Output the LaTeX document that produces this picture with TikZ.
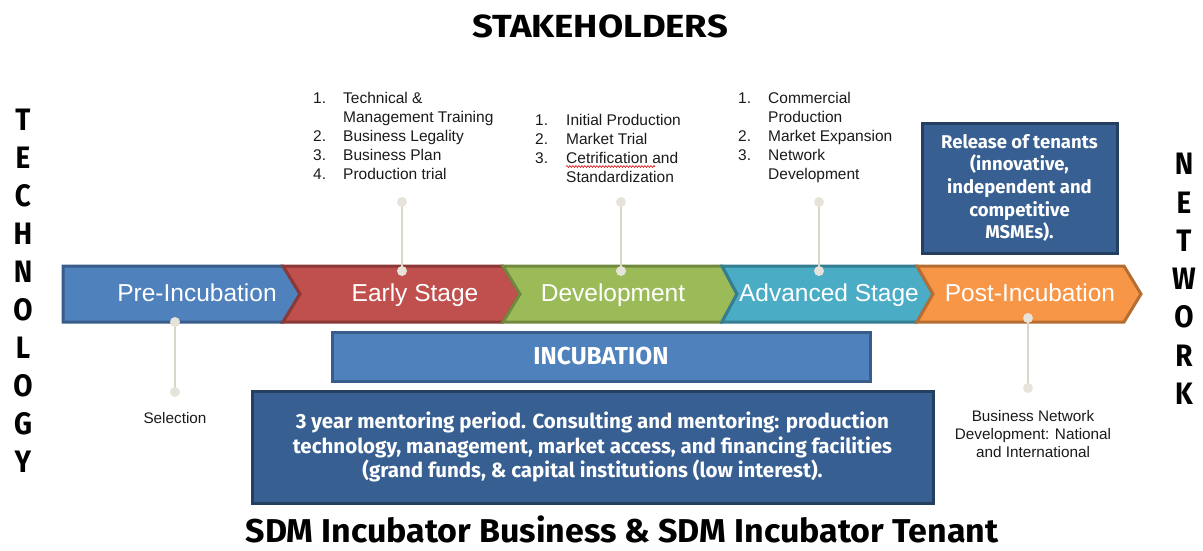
\documentclass[tikz,border=0pt]{standalone}
\usepackage{fontspec}
\setmainfont{Liberation Sans}
\newfontfamily\boxfont{Fira Sans}
\newfontfamily\vfont[FakeStretch=0.9]{Fira Sans}
\newfontfamily\headfont[FakeStretch=1.14]{Fira Sans}
\newfontfamily\footfont[FakeStretch=1.03]{Fira Sans}
\usetikzlibrary{decorations.pathmorphing}

\definecolor{preF}{HTML}{4F81BD}\definecolor{preD}{HTML}{385D8A}
\definecolor{earF}{HTML}{C0504D}\definecolor{earD}{HTML}{8C3836}
\definecolor{devF}{HTML}{9BBB59}\definecolor{devD}{HTML}{71893F}
\definecolor{advF}{HTML}{4BACC6}\definecolor{advD}{HTML}{357D91}
\definecolor{posF}{HTML}{F79646}\definecolor{posD}{HTML}{B66D31}
\definecolor{boxF}{HTML}{375F91}\definecolor{boxD}{HTML}{243F60}
\definecolor{dotF}{HTML}{E6E3DA}\definecolor{dotL}{HTML}{DAD6CC}
\definecolor{txtK}{HTML}{1A1A1A}

\tikzset{
  chev/.style={line width=3pt, line join=miter},
  stagetxt/.style={text=white, inner sep=0pt, anchor=base,
    font=\fontsize{24.5}{24.5}\selectfont},
  listtxt/.style={text=txtK, inner sep=0pt, anchor=base west,
    font=\fontsize{15.5}{19}\selectfont},
  note/.style={text=txtK, inner sep=0pt, align=center,
    font=\fontsize{15.3}{18}\selectfont},
  pin/.style={circle, draw=none, minimum size=10pt, inner sep=0pt},
  stem/.style={draw=dotL, line width=2pt},
  darkbox/.style={rectangle, fill=boxF, draw=boxD, line width=3pt,
    text=white, align=center, inner sep=0pt},
  lightbox/.style={rectangle, fill=preF, draw=preD, line width=3pt,
    text=white, align=center, inner sep=0pt},
  vlet/.style={text=black, inner sep=0pt,
    font=\vfont\bfseries\fontsize{31}{31}\selectfont},
}

\begin{document}
\begin{tikzpicture}[x=1pt, y=-1pt]
\useasboundingbox (0,0) rectangle (1203,550);

% titles
\node[text=black, inner sep=0pt, anchor=base,
  font=\headfont\bfseries\fontsize{32}{32}\selectfont] (stake) at (600,37) {STAKEHOLDERS};
\node[text=black, inner sep=0pt, anchor=base,
  font=\footfont\bfseries\fontsize{33}{33}\selectfont] (sdm) at (622,542)
  {SDM Incubator Business \& SDM Incubator Tenant};

% vertical words
\foreach \c [count=\i] in {T,E,C,H,N,O,L,O,G,Y}
  \node[vlet] (tech\i) at (23,{120+38*(\i-1)}) {\c};
\foreach \c [count=\i] in {N,E,T,W,O,R,K}
  \node[vlet] (net\i) at (1184,{164+38.3*(\i-1)}) {\c};

% stage chevrons
\draw[chev, fill=preF, draw=preD] (63,266) -- (283,266) -- (300,294) -- (283,322) -- (63,322) -- cycle;
\draw[chev, fill=earF, draw=earD] (283,266) -- (503,266) -- (520,294) -- (503,322) -- (283,322) -- (300,294) -- cycle;
\draw[chev, fill=devF, draw=devD] (503,266) -- (722,266) -- (737,294) -- (722,322) -- (503,322) -- (520,294) -- cycle;
\draw[chev, fill=advF, draw=advD] (722,266) -- (917,266) -- (933,294) -- (917,322) -- (722,322) -- (737,294) -- cycle;
\draw[chev, fill=posF, draw=posD] (917,266) -- (1124,266) -- (1141,294) -- (1124,322) -- (917,322) -- (933,294) -- cycle;

\node[stagetxt] (pre) at (197,301) {Pre-Incubation};
\node[stagetxt] (early) at (415,301) {Early Stage};
\node[stagetxt] (dev) at (613,301) {Development};
\node[stagetxt] (adv) at (829,301) {Advanced Stage};
\node[stagetxt] (post) at (1030,301) {Post-Incubation};

% pins: stems first, round heads on top
\node[pin] (preA) at (175,322) {};
\node[pin] (preB) at (175,392) {};
\node[pin] (earA) at (402,202) {};
\node[pin] (earB) at (402,271) {};
\node[pin] (devA) at (621,202) {};
\node[pin] (devB) at (621,271) {};
\node[pin] (advA) at (819,202) {};
\node[pin] (advB) at (819,271) {};
\node[pin] (posA) at (1028,318) {};
\node[pin] (posB) at (1028,388) {};
\draw[stem] (preA.center) -- (preB.center);
\draw[stem] (earA.center) -- (earB.center);
\draw[stem] (devA.center) -- (devB.center);
\draw[stem] (advA.center) -- (advB.center);
\draw[stem] (posA.center) -- (posB.center);
\foreach \n in {preA,preB,earA,earB,devA,devB,advA,advB,posA,posB}
  \fill[dotF] (\n.center) circle (5pt);

% stage notes
\node[listtxt] (earlist) at (313,103.5) {\begin{tabular}[t]{@{}p{30pt}@{}l@{}}
1. & Technical \&\\
   & Management Training\\
2. & Business Legality\\
3. & Business Plan\\
4. & Production trial
\end{tabular}};
\node[listtxt] (devlist) at (535,125.5) {\begin{tabular}[t]{@{}p{31pt}@{}l@{}}
1. & Initial Production\\
2. & Market Trial\\
3. & Cetrification and\\
   & Standardization
\end{tabular}};
\draw[red!85!black, line width=0.6pt, decorate,
  decoration={snake, amplitude=0.9pt, segment length=3pt}]
  (566,166.5) -- (655,166.5);
\node[listtxt] (advlist) at (738,103.5) {\begin{tabular}[t]{@{}p{30pt}@{}l@{}}
1. & Commercial\\
   & Production\\
2. & Market Expansion\\
3. & Network\\
   & Development
\end{tabular}};

\node[note] (sel) at (175,418) {Selection};
\node[note] (bnet) at (1033,434) {Business Network\\Development: National\\and International};

% boxes
\node[darkbox, minimum width=195pt, minimum height=130pt,
  font=\boxfont\bfseries\fontsize{18.5}{22.6}\selectfont] (release) at (1019.5,188)
  {Release of tenants\\(innovative,\\independent and\\competitive\\MSMEs).};
\node[lightbox, minimum width=538pt, minimum height=49pt,
  font=\boxfont\bfseries\fontsize{24.5}{24.5}\selectfont] (incub) at (601,356.5) {INCUBATION};
\node[darkbox, minimum width=681pt, minimum height=112pt,
  font=\boxfont\bfseries\fontsize{20.5}{24.5}\selectfont] (mentor) at (592.5,447)
  {3 year mentoring period. Consulting and mentoring: production\\
   technology, management, market access, and financing facilities\\
   (grand funds, \& capital institutions (low interest).};
\end{tikzpicture}
\end{document}
